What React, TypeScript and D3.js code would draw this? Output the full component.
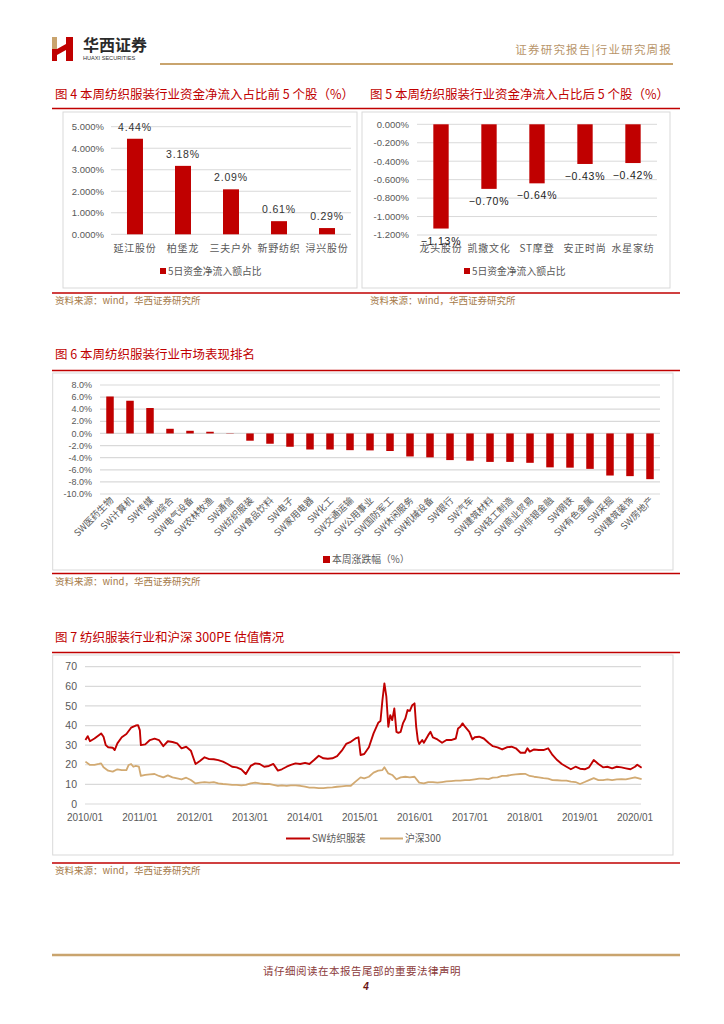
import React from 'react';
import * as d3 from 'd3';

const top5Names = ['延江股份', '柏堡龙', '三夫户外', '新野纺织', '浔兴股份'];
const top5Values = [4.44, 3.18, 2.09, 0.61, 0.29];
const bottom5Names = ['龙头股份', '凯撒文化', 'ST摩登', '安正时尚', '水星家纺'];
const bottom5Values = [-1.13, -0.7, -0.64, -0.43, -0.42];

const industryNames = [
  'SW医药生物', 'SW计算机', 'SW传媒', 'SW综合', 'SW电气设备', 'SW农林牧渔', 'SW通信',
  'SW纺织服装', 'SW食品饮料', 'SW电子', 'SW家用电器', 'SW化工', 'SW交通运输', 'SW公用事业',
  'SW国防军工', 'SW休闲服务', 'SW机械设备', 'SW银行', 'SW汽车', 'SW建筑材料', 'SW轻工制造',
  'SW商业贸易', 'SW非银金融', 'SW钢铁', 'SW有色金属', 'SW采掘', 'SW建筑装饰', 'SW房地产',
];
const industryValues = [
  6.1, 5.4, 4.2, 0.77, 0.44, 0.28, -0.05, -1.2, -1.7, -2.2, -2.65, -2.65, -2.76, -2.8,
  -2.9, -3.8, -3.95, -4.4, -4.5, -4.7, -4.7, -4.85, -5.6, -5.65, -5.85, -6.95, -7.05, -7.55,
];

const peSW: [string, number][] = [
  ['2010-01-04', 32.6], ['2010-01-19', 34.6], ['2010-02-03', 32], ['2010-03-05', 33.4],
  ['2010-04-03', 35.1], ['2010-04-18', 36], ['2010-05-04', 34.3], ['2010-05-19', 30],
  ['2010-06-04', 28.9], ['2010-07-04', 28.7], ['2010-07-17', 27.5], ['2010-08-04', 30.9],
  ['2010-09-02', 34], ['2010-10-03', 35.7], ['2010-11-03', 38.9], ['2010-12-04', 40],
  ['2010-12-19', 40.2], ['2010-12-31', 37.7], ['2011-01-07', 30], ['2011-02-05', 30.4],
  ['2011-03-08', 32.6], ['2011-04-08', 33.3], ['2011-05-07', 32.6], ['2011-06-05', 29.5],
  ['2011-07-05', 32], ['2011-08-05', 31.6], ['2011-09-05', 30.9], ['2011-10-04', 28.4],
  ['2011-11-04', 29.2], ['2011-12-05', 27.2], ['2011-12-15', 25], ['2012-01-05', 20.4],
  ['2012-02-03', 21.9], ['2012-03-05', 23.8], ['2012-04-05', 22.9], ['2012-05-05', 22.8],
  ['2012-06-04', 22.4], ['2012-07-05', 21.6], ['2012-08-05', 20.4], ['2012-09-04', 19],
  ['2012-10-04', 18.7], ['2012-11-04', 17.7], ['2012-12-04', 15.3], ['2013-01-05', 19.4],
  ['2013-02-04', 20.7], ['2013-03-06', 20.4], ['2013-04-05', 19], ['2013-05-06', 19.4],
  ['2013-06-05', 20.4], ['2013-07-05', 17], ['2013-07-31', 17.7], ['2013-09-01', 19],
  ['2013-09-29', 19.9], ['2013-10-30', 20.7], ['2013-11-30', 20.4], ['2014-01-01', 21],
  ['2014-01-30', 20.4], ['2014-03-02', 22.4], ['2014-04-02', 24.6], ['2014-05-03', 23.3],
  ['2014-06-01', 23.1], ['2014-07-02', 23.3], ['2014-08-02', 24.4], ['2014-09-02', 27.2],
  ['2014-10-01', 30.6], ['2014-11-01', 31.7], ['2014-12-02', 33.4], ['2014-12-22', 34],
  ['2015-01-05', 25], ['2015-01-29', 25.5], ['2015-03-01', 28.9], ['2015-04-01', 36],
  ['2015-05-02', 41.4], ['2015-05-17', 42.3], ['2015-05-30', 53], ['2015-06-12', 61.5],
  ['2015-06-25', 54.7], ['2015-07-08', 39.4], ['2015-07-21', 45.3], ['2015-08-03', 42.8],
  ['2015-08-17', 48.7], ['2015-08-31', 36.8], ['2015-09-13', 36.3], ['2015-09-28', 36.8],
  ['2015-10-13', 41.1], ['2015-10-29', 43.6], ['2015-11-13', 47.9], ['2015-11-28', 47.5],
  ['2015-12-14', 50.4], ['2015-12-29', 51.3], ['2016-01-09', 39.4], ['2016-01-20', 32.6],
  ['2016-01-29', 30.6], ['2016-02-18', 32.6], ['2016-02-29', 31.2], ['2016-03-29', 35.1],
  ['2016-04-13', 36.8], ['2016-04-29', 34], ['2016-05-29', 32.9], ['2016-06-29', 31.2],
  ['2016-07-28', 32.6], ['2016-08-28', 32.6], ['2016-09-28', 33.4], ['2016-10-13', 38.5],
  ['2016-10-28', 39.4], ['2016-11-12', 41.1], ['2016-11-28', 39.4], ['2016-12-27', 36.8],
  ['2017-01-16', 32.9], ['2017-02-01', 34], ['2017-03-02', 34.3], ['2017-04-02', 33.4],
  ['2017-05-03', 31.2], ['2017-06-01', 29.5], ['2017-07-02', 28.9], ['2017-08-02', 27.8],
  ['2017-09-02', 28.9], ['2017-10-03', 29.2], ['2017-11-01', 28.4], ['2017-12-02', 26.1],
  ['2018-01-01', 26.1], ['2018-01-17', 28.4], ['2018-02-01', 26.7], ['2018-03-02', 27.8],
  ['2018-04-02', 27.5], ['2018-05-03', 27.5], ['2018-06-03', 28.4], ['2018-07-02', 25],
  ['2018-08-02', 22.4], ['2018-09-02', 20.4], ['2018-10-03', 19], ['2018-11-01', 17.7],
  ['2018-12-02', 19], ['2019-01-01', 18], ['2019-02-01', 17.7], ['2019-03-02', 18.7],
  ['2019-04-02', 22.4], ['2019-05-03', 20.4], ['2019-06-03', 18.7], ['2019-07-02', 19],
  ['2019-08-02', 18.2], ['2019-09-02', 19], ['2019-10-03', 18.7], ['2019-11-01', 18.2],
  ['2019-12-02', 17.7], ['2020-01-01', 19], ['2020-01-16', 20], ['2020-02-14', 18.5],
];

const peHS: [string, number][] = [
  ['2010-01-04', 21.6], ['2010-02-03', 19.9], ['2010-03-05', 19.9], ['2010-04-03', 20.4],
  ['2010-04-18', 20.7], ['2010-05-04', 18.7], ['2010-06-04', 17], ['2010-07-04', 16.5],
  ['2010-08-04', 17.7], ['2010-09-02', 17.3], ['2010-10-03', 17.3], ['2010-10-18', 19.9],
  ['2010-11-03', 20.4], ['2010-11-18', 19], ['2010-12-04', 19.4], ['2010-12-25', 19],
  ['2011-01-07', 14.3], ['2011-02-05', 14.8], ['2011-03-08', 15.1], ['2011-04-08', 15.3],
  ['2011-05-07', 14.3], ['2011-06-05', 13.6], ['2011-07-05', 14.6], ['2011-08-05', 13.6],
  ['2011-09-05', 13.1], ['2011-10-04', 12.6], ['2011-11-04', 13.4], ['2011-12-05', 12.2],
  ['2012-01-05', 10.5], ['2012-02-03', 10.9], ['2012-03-05', 11.2], ['2012-04-05', 10.9],
  ['2012-05-05', 11.2], ['2012-06-04', 10.5], ['2012-07-05', 10.2], ['2012-08-05', 10],
  ['2012-09-04', 9.7], ['2012-10-04', 9.8], ['2012-11-04', 9.5], ['2012-12-04', 9.8],
  ['2013-01-05', 10.5], ['2013-02-04', 10.9], ['2013-03-06', 10.5], ['2013-04-05', 10.2],
  ['2013-05-06', 10.2], ['2013-06-05', 9.7], ['2013-07-05', 9.2], ['2013-07-31', 9.5],
  ['2013-09-01', 9.2], ['2013-09-29', 9.5], ['2013-10-30', 9.5], ['2013-11-30', 9.3],
  ['2014-01-01', 8.8], ['2014-01-30', 8.3], ['2014-03-02', 8.3], ['2014-04-02', 8.1],
  ['2014-05-03', 8.1], ['2014-06-01', 8.3], ['2014-07-02', 8.5], ['2014-08-02', 8.8],
  ['2014-09-02', 9], ['2014-10-01', 9.2], ['2014-11-01', 9.3], ['2014-12-02', 11.4],
  ['2015-01-05', 13.6], ['2015-01-29', 13.1], ['2015-03-01', 13.9], ['2015-04-01', 16],
  ['2015-05-02', 17], ['2015-05-30', 17.3], ['2015-06-12', 18.7], ['2015-07-08', 15.6],
  ['2015-08-03', 14.8], ['2015-08-31', 12.6], ['2015-09-28', 13.6], ['2015-10-29', 13.9],
  ['2015-11-28', 13.6], ['2015-12-29', 13.9], ['2016-01-29', 10.9], ['2016-02-29', 10.5],
  ['2016-03-29', 11.2], ['2016-04-29', 11.2], ['2016-05-29', 10.9], ['2016-06-29', 11.2],
  ['2016-07-28', 11.5], ['2016-08-28', 11.7], ['2016-09-28', 11.9], ['2016-10-28', 11.9],
  ['2016-11-28', 12.2], ['2016-12-27', 12.2], ['2017-02-01', 12.6], ['2017-03-02', 12.9],
  ['2017-04-02', 12.9], ['2017-05-03', 12.7], ['2017-06-01', 13.4], ['2017-07-02', 13.6],
  ['2017-08-02', 14.3], ['2017-09-02', 14.4], ['2017-10-03', 14.8], ['2017-11-01', 15.1],
  ['2017-12-02', 15.3], ['2018-01-01', 15.4], ['2018-02-01', 14.3], ['2018-03-02', 13.9],
  ['2018-04-02', 13.6], ['2018-05-03', 13.2], ['2018-06-03', 12.9], ['2018-07-02', 12.2],
  ['2018-08-02', 12.1], ['2018-09-02', 11.9], ['2018-10-03', 11.9], ['2018-11-01', 11.4],
  ['2018-12-02', 11.2], ['2019-01-01', 10.2], ['2019-02-01', 11.2], ['2019-03-02', 12.2],
  ['2019-04-02', 13.2], ['2019-05-03', 12.2], ['2019-06-03', 12.2], ['2019-07-02', 12.6],
  ['2019-08-02', 12.2], ['2019-09-02', 12.6], ['2019-10-03', 12.7], ['2019-11-01', 12.6],
  ['2019-12-02', 13.1], ['2020-01-01', 13.6], ['2020-02-14', 12.7],
];

const yearTicks = d3.range(2010, 2021);

const RED = '#c00000';
const GOLD = '#d2aa72';
const GRID = '#d9d9d9';
const LABEL = '#595959';
const SRC = '#a57a48';
const CJK = '"Noto Sans CJK SC", sans-serif';
const NUM = '"Liberation Sans", Arial, sans-serif';

function Frame({ title, tx, ty, lineTop, lineBottom, src }: any) {
  return (
    <g>
      {title.map((t: any, i: number) => (
        <text key={i} x={t.x} y={ty} fontFamily={CJK} fontSize={12.5} fill={RED}>{t.text}</text>
      ))}
      <line x1={52} x2={680} y1={lineTop} y2={lineTop} stroke={RED} strokeWidth={1.6} />
      <line x1={52} x2={680} y1={lineBottom} y2={lineBottom} stroke={RED} strokeWidth={1.6} />
      {src.map((sx: number, i: number) => (
        <text key={i} x={sx} y={lineBottom + 11} fontFamily={CJK} fontSize={9.5} fill={SRC}>资料来源：wind，华西证券研究所</text>
      ))}
    </g>
  );
}

function Top5() {
  const x = d3.scaleBand<string>().domain(top5Names).range([111, 351]).paddingInner(0.667).paddingOuter(0.333);
  const y = d3.scaleLinear().domain([0, 5]).range([234.3, 126.7]);
  const ticks = d3.range(0, 5.001, 1);
  return (
    <g>
      <rect x={63} y={112} width={294} height={176} fill="none" stroke={GRID} />
      {ticks.map((t) => (
        <g key={t}>
          <line x1={111} x2={351} y1={y(t)} y2={y(t)} stroke={GRID} />
          <text x={104} y={y(t)} dy="0.35em" textAnchor="end" fontFamily={NUM} fontSize={9.5} fill={LABEL}>{t.toFixed(3) + '%'}</text>
        </g>
      ))}
      {top5Names.map((n, i) => (
        <g key={n}>
          <rect x={x(n)} y={y(top5Values[i])} width={x.bandwidth()} height={y(0) - y(top5Values[i])} fill={RED} />
          <text x={x(n)! + x.bandwidth() / 2} y={y(top5Values[i]) - 8} textAnchor="middle" fontFamily={NUM} fontSize={10.5} letterSpacing={0.8} fill="#333">{top5Values[i].toFixed(2) + '%'}</text>
          <text x={x(n)! + x.bandwidth() / 2} y={252} textAnchor="middle" fontFamily={CJK} fontSize={10} letterSpacing={0.8} fill={LABEL}>{n}</text>
        </g>
      ))}
      <rect x={160} y={268} width={6} height={6} fill={RED} />
      <text x={168} y={274.5} fontFamily={CJK} fontSize={9.8} fill={LABEL}>5日资金净流入额占比</text>
    </g>
  );
}

function Bottom5() {
  const x = d3.scaleBand<string>().domain(bottom5Names).range([417, 657]).paddingInner(0.68).paddingOuter(0.34);
  const y = d3.scaleLinear().domain([-1.2, 0]).range([235, 124.3]);
  const ticks = d3.range(0, -1.2001, -0.2);
  return (
    <g>
      <rect x={362} y={112} width={308} height={176} fill="none" stroke={GRID} />
      {ticks.map((t, i) => (
        <g key={i}>
          <line x1={417} x2={657} y1={y(t)} y2={y(t)} stroke={GRID} />
          <text x={409} y={y(t)} dy="0.35em" textAnchor="end" fontFamily={NUM} fontSize={9.5} fill={LABEL}>{(Math.abs(t) < 1e-9 ? '0.000' : t.toFixed(3)) + '%'}</text>
        </g>
      ))}
      {bottom5Names.map((n, i) => (
        <g key={n}>
          <rect x={x(n)} y={y(0)} width={x.bandwidth()} height={y(bottom5Values[i]) - y(0)} fill={RED} />
          <text x={x(n)! + x.bandwidth() / 2} y={252} textAnchor="middle" fontFamily={CJK} fontSize={10} letterSpacing={0.8} fill={LABEL}>{n}</text>
          <text x={x(n)! + x.bandwidth() / 2} y={y(bottom5Values[i]) + 16} textAnchor="middle" fontFamily={NUM} fontSize={10.5} letterSpacing={0.8} fill="#222">{'−' + Math.abs(bottom5Values[i]).toFixed(2) + '%'}</text>
        </g>
      ))}
      <rect x={464} y={268} width={6} height={6} fill={RED} />
      <text x={472} y={274.5} fontFamily={CJK} fontSize={9.8} fill={LABEL}>5日资金净流入额占比</text>
    </g>
  );
}

function Industry() {
  const x = d3.scaleBand<string>().domain(industryNames).range([100, 660]).paddingInner(0.625).paddingOuter(0.3125);
  const y = d3.scaleLinear().domain([-10, 8]).range([494, 385]);
  const ticks = d3.range(-10, 8.001, 2);
  return (
    <g>
      <rect x={52.7} y={373} width={620.3} height={197} fill="none" stroke={GRID} />
      {ticks.map((t) => (
        <g key={t}>
          <line x1={100} x2={660} y1={y(t)} y2={y(t)} stroke={GRID} strokeWidth={1.2} />
          <text x={92} y={y(t)} dy="0.35em" textAnchor="end" fontFamily={NUM} fontSize={9} fill={LABEL}>{t.toFixed(1) + '%'}</text>
        </g>
      ))}
      {industryNames.map((n, i) => {
        const v = industryValues[i];
        const cx = x(n)! + x.bandwidth() / 2;
        return (
          <g key={n}>
            <rect x={x(n)} y={y(Math.max(0, v))} width={x.bandwidth()} height={Math.abs(y(v) - y(0))} fill={RED} />
            <text transform={`translate(${cx + 4},${501}) rotate(-45)`} textAnchor="end" fontFamily={CJK} fontSize={9.3} fill={LABEL}>{n}</text>
          </g>
        );
      })}
      <rect x={323} y={556} width={7} height={7} fill={RED} />
      <text x={332} y={563} fontFamily={CJK} fontSize={9.8} fill={LABEL}>本周涨跌幅（%）</text>
    </g>
  );
}

function PE() {
  const parse = d3.timeParse('%Y-%m-%d');
  const x = d3.scaleTime().domain([new Date(2010, 0, 1), new Date(2020, 0, 1)]).range([85, 635]);
  const y = d3.scaleLinear().domain([0, 70]).range([804, 666.7]);
  const line = d3.line<[string, number]>().x((d) => x(parse(d[0])!)).y((d) => y(d[1]));
  const ticks = d3.range(0, 70.001, 10);
  return (
    <g>
      <rect x={52.7} y={655} width={620.3} height={200} fill="none" stroke={GRID} />
      {ticks.map((t) => (
        <g key={t}>
          <line x1={85} x2={641} y1={y(t)} y2={y(t)} stroke={GRID} strokeWidth={1.2} />
          <text x={77} y={y(t)} dy="0.35em" textAnchor="end" fontFamily={NUM} fontSize={10.5} fill={LABEL}>{t}</text>
        </g>
      ))}
      {yearTicks.map((yr) => (
        <text key={yr} x={x(new Date(yr, 0, 1))} y={821} textAnchor="middle" fontFamily={NUM} fontSize={10} fill={LABEL}>{yr + '/01'}</text>
      ))}
      <path d={line(peHS)!} fill="none" stroke={GOLD} strokeWidth={1.8} strokeLinejoin="round" />
      <path d={line(peSW)!} fill="none" stroke={RED} strokeWidth={1.9} strokeLinejoin="round" />
      <line x1={286} x2={310} y1={838.5} y2={838.5} stroke={RED} strokeWidth={2} />
      <text x={312} y={842} fontFamily={CJK} fontSize={9.8} fill={LABEL}>SW纺织服装</text>
      <line x1={380} x2={403} y1={838.5} y2={838.5} stroke={GOLD} strokeWidth={2} />
      <text x={405} y={842} fontFamily={CJK} fontSize={9.8} fill={LABEL}>沪深300</text>
    </g>
  );
}

function Header() {
  return (
    <g>
      <rect x={52} y={37} width={5} height={12} fill="#c9a46e" />
      <rect x={52} y={49} width={5} height={12} fill={RED} />
      <polygon points="57,49 66,44 66,50 57,55" fill={RED} />
      <rect x={66} y={37} width={7} height={24} fill={RED} />
      <text x={83} y={51} fontFamily={CJK} fontSize={16} fontWeight={700} fill="#2b2b2b">华西证券</text>
      <text x={83} y={60} fontFamily={NUM} fontSize={5.6} fill="#333">HUAXI SECURITIES</text>
      <text x={672} y={54} textAnchor="end" fontFamily={CJK} fontSize={11.5} letterSpacing={1.2} fill="#b8956a">证券研究报告|行业研究周报</text>
      <line x1={160} x2={673} y1={64} y2={64} stroke="#c9a46e" strokeWidth={2} />
      <line x1={52} x2={680} y1={955} y2={955} stroke="#c9a46e" strokeWidth={2.5} />
      <text x={362} y={975} textAnchor="middle" fontFamily={CJK} fontSize={10.5} letterSpacing={0.5} fill="#8b3a3a">请仔细阅读在本报告尾部的重要法律声明</text>
      <text x={366} y={990} textAnchor="middle" fontFamily={NUM} fontSize={10} fontWeight={700} fontStyle="italic" fill="#6b1515">4</text>
    </g>
  );
}

export default function App() {
  return (
    <svg width={724} height={1024} viewBox="0 0 724 1024" style={{ position: 'absolute', left: 0, top: 0, background: '#fff' }}>
      <rect width={724} height={1024} fill="#fff" />
      <Header />
      <Frame title={[{ x: 55, text: '图 4 本周纺织服装行业资金净流入占比前 5 个股（%）' }, { x: 370, text: '图 5 本周纺织服装行业资金净流入占比后 5 个股（%）' }]} ty={99} lineTop={108.5} lineBottom={293} src={[55, 370]} />
      <Top5 />
      <Bottom5 />
      <Frame title={[{ x: 55, text: '图 6 本周纺织服装行业市场表现排名' }]} ty={359} lineTop={370.5} lineBottom={573.5} src={[55]} />
      <Industry />
      <Frame title={[{ x: 55, text: '图 7 纺织服装行业和沪深 300PE 估值情况' }]} ty={642} lineTop={652.5} lineBottom={863} src={[55]} />
      <PE />
    </svg>
  );
}
